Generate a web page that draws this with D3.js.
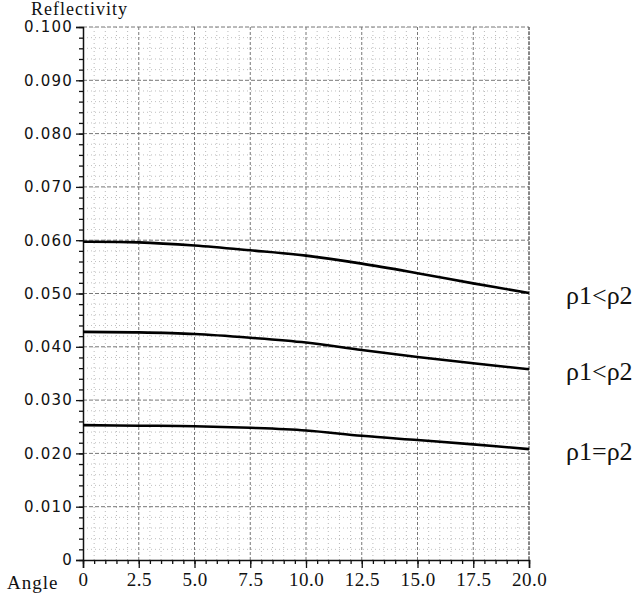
<!DOCTYPE html>
<html>
<head>
<meta charset="utf-8">
<script src="https://cdn.jsdelivr.net/npm/d3@7"></script>
<style>
  body { margin: 0; background: #fff; }
</style>
</head>
<body>
<div id="container"></div>
<script>
// values
let angles = [0, 2.5, 5, 7.5, 10, 12.5, 15, 17.5, 20];
let upper  = [0.0597, 0.0596, 0.0590, 0.0581, 0.0571, 0.0556, 0.0538, 0.0519, 0.0501];
let middle = [0.0428, 0.0427, 0.0424, 0.0417, 0.0408, 0.0394, 0.0381, 0.0369, 0.0358];
let lower  = [0.0253, 0.0252, 0.0251, 0.0248, 0.0243, 0.0233, 0.0225, 0.0217, 0.0208];
let curveLabels = ['ρ1<ρ2', 'ρ1<ρ2', 'ρ1=ρ2'];
let xTicks = [0, 2.5, 5, 7.5, 10, 12.5, 15, 17.5, 20];
let yTicks = [0, 0.01, 0.02, 0.03, 0.04, 0.05, 0.06, 0.07, 0.08, 0.09, 0.1];

let w = 639,
    h = 594;

let serif = "'Liberation Serif', serif";

let svg = d3.select('#container')
  .append('svg')
    .attr('width', w)
    .attr('height', h)
    .style('background', '#fff');

let x = d3.scaleLinear().domain([0, 20]).range([83, 529]);
let y = d3.scaleLinear().domain([0, 0.1]).range([560, 27]);

// grid: minor every 0.5 / 0.002, majors darker
let grid = svg.append('g');
let xMinor = d3.range(0, 20.001, 0.5);
let yMinor = d3.range(0, 0.1001, 0.002);
let isMajX = d => Math.abs(d / 2.5 - Math.round(d / 2.5)) < 1e-6;
let isMajY = d => Math.abs(d / 0.01 - Math.round(d / 0.01)) < 1e-6;

grid.selectAll('.vg')
  .data(xMinor.slice(1))
  .enter().append('line')
    .attr('x1', d => x(d)).attr('x2', d => x(d))
    .attr('y1', y(0)).attr('y2', y(0.1))
    .attr('stroke', d => isMajX(d) ? '#777' : '#b8b8b8')
    .attr('stroke-width', 1)
    .attr('stroke-dasharray', d => isMajX(d) ? '3,2' : '1,3');

grid.selectAll('.hg')
  .data(yMinor.slice(1))
  .enter().append('line')
    .attr('x1', x(0)).attr('x2', x(20))
    .attr('y1', d => y(d)).attr('y2', d => y(d))
    .attr('stroke', d => isMajY(d) ? '#777' : '#c0c0c0')
    .attr('stroke-width', 1)
    .attr('stroke-dasharray', d => isMajY(d) ? '4,2' : '1,3');

// axes
let yAxis = d3.axisLeft(y)
  .tickValues(yTicks)
  .tickSize(7)
  .tickPadding(3)
  .tickFormat(d => d === 0 ? '0' : d3.format('.3f')(d));

let yMinorAxis = d3.axisLeft(y).tickValues(yMinor).tickSize(4).tickFormat('');

let xAxis = d3.axisBottom(x)
  .tickValues(xTicks)
  .tickSize(8)
  .tickPadding(5)
  .tickFormat(d => d === 0 ? '0' : d3.format('.1f')(d));

let xMinorAxis = d3.axisBottom(x).tickValues(xMinor).tickSize(4).tickFormat('');

svg.append('g')
    .attr('transform', 'translate(' + x(0) + ',0)')
    .call(yMinorAxis)
    .call(g => g.select('.domain').remove());

let gy = svg.append('g')
    .attr('transform', 'translate(' + x(0) + ',0)')
    .call(yAxis);
gy.attr('font-family', null).attr('font-size', null);
gy.selectAll('text')
    .style('font-family', "'DejaVu Sans', sans-serif")
    .style('font-size', '15px')
    .attr('letter-spacing', 1.2)
    .attr('fill', '#111');

svg.append('g')
    .attr('transform', 'translate(0,' + y(0) + ')')
    .call(xMinorAxis)
    .call(g => g.select('.domain').remove());

let gx = svg.append('g')
    .attr('transform', 'translate(0,' + y(0) + ')')
    .call(xAxis);
gx.attr('font-family', null).attr('font-size', null);
gx.selectAll('text')
    .style('font-family', serif)
    .style('font-size', '19px')
    .attr('letter-spacing', 0.5)
    .attr('fill', '#111');

svg.selectAll('.domain').attr('stroke', '#111').attr('stroke-width', 1.5);
svg.selectAll('.tick line').attr('stroke', '#111').attr('stroke-width', 1.3);

// right border
svg.append('line')
    .attr('x1', x(20)).attr('x2', x(20))
    .attr('y1', y(0)).attr('y2', y(0.1))
    .attr('stroke', '#555')
    .attr('stroke-dasharray', '4,1');

// axis titles
svg.append('text')
    .attr('x', 31)
    .attr('y', 15)
    .style('font-family', serif)
    .style('font-size', '18px')
    .attr('letter-spacing', 1)
    .attr('fill', '#111')
    .text('Reflectivity');

svg.append('text')
    .attr('x', 7)
    .attr('y', 589)
    .style('font-family', serif)
    .style('font-size', '19px')
    .attr('letter-spacing', 1)
    .attr('fill', '#111')
    .text('Angle');

// curves
let series = [upper, middle, lower];
let line = d3.line()
    .x((d, i) => x(angles[i]))
    .y(d => y(d))
    .curve(d3.curveCatmullRom.alpha(0.5));

svg.append('g')
  .selectAll('path')
  .data(series)
  .enter().append('path')
    .attr('d', line)
    .attr('fill', 'none')
    .attr('stroke', '#000')
    .attr('stroke-width', 2.6);

svg.append('g')
  .selectAll('text')
  .data(series)
  .enter().append('text')
    .attr('x', x(20) + 37)
    .attr('y', d => y(d[d.length - 1]) + 5)
    .attr('dominant-baseline', 'middle')
    .style('font-family', "'Liberation Serif', serif")
    .style('font-size', '26px')
    .attr('fill', '#111')
    .text((d, i) => curveLabels[i]);
</script>
</body>
</html>
